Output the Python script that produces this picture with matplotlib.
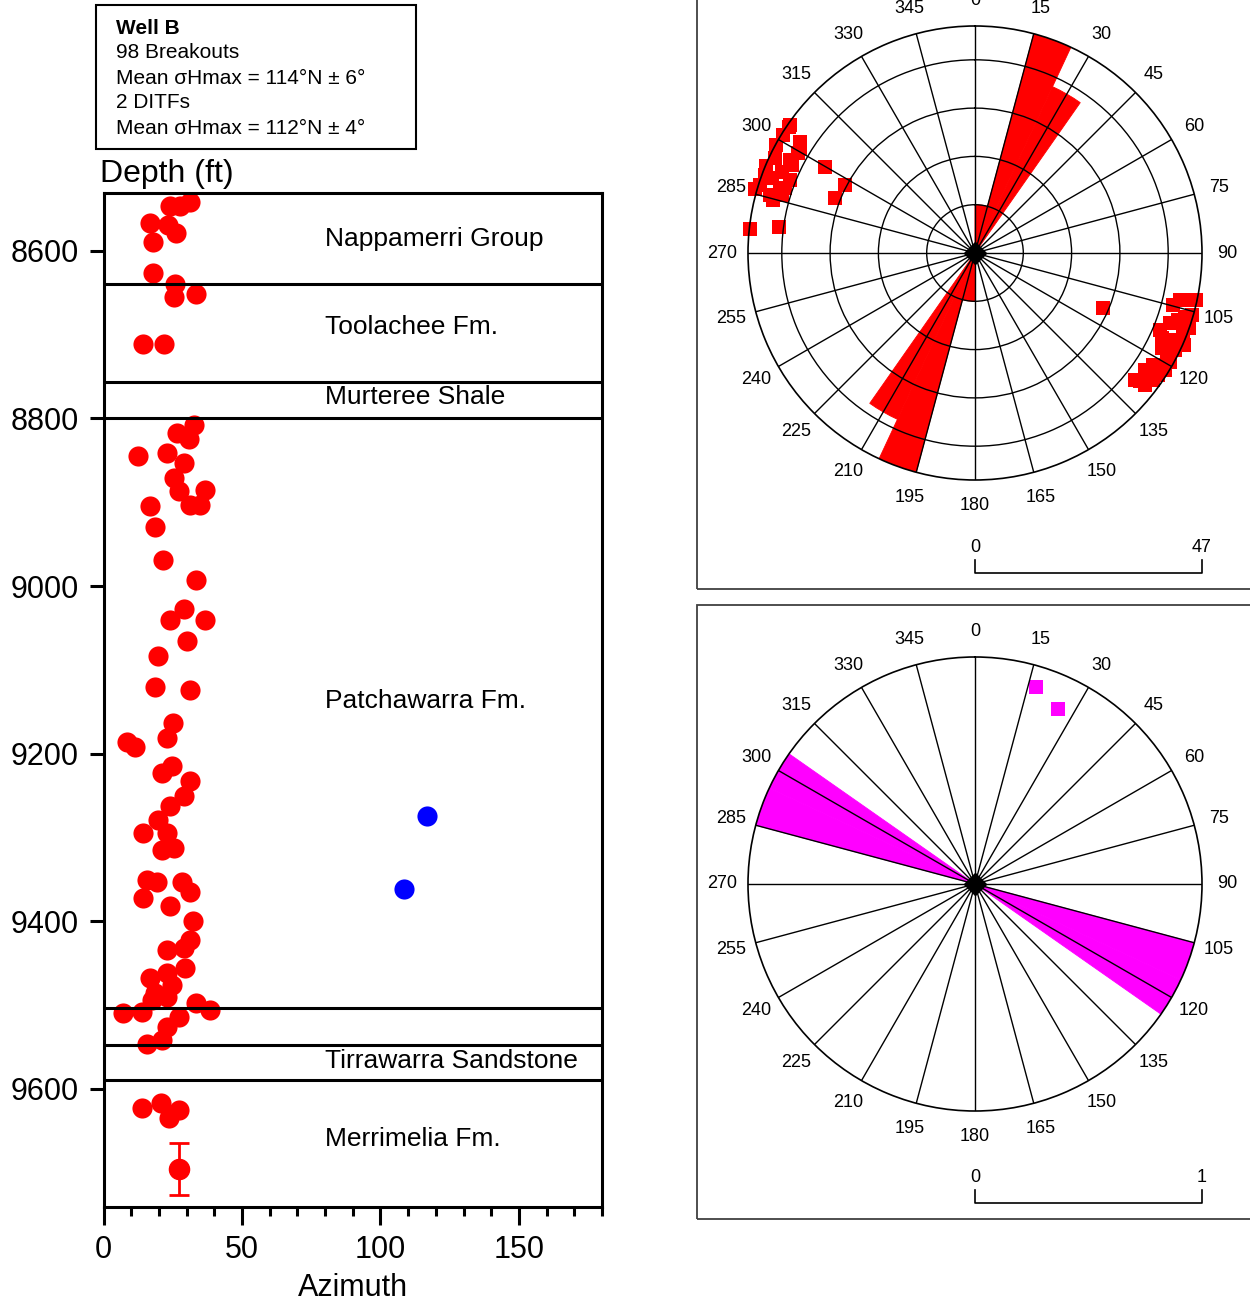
import numpy as np
import matplotlib
matplotlib.use("Agg")
import matplotlib.pyplot as plt
from matplotlib.patches import Rectangle

plt.rcParams['font.family'] = ['Liberation Sans', 'DejaVu Sans']

# ---- well log data (left panel) ----
bo_az = [24.1, 27.7, 31.3, 16.8, 23.4, 26.2, 17.8, 17.8, 25.9, 25.3, 33.5, 14.4, 21.9,
         32.5, 26.5, 30.7, 22.9, 28.9, 12.4, 25.3, 27.1, 31.3, 34.9, 36.7, 16.8, 18.6,
         21.6, 33.5, 28.9, 24.1, 36.5, 30.1, 19.8,
         18.6, 31.3, 25.0, 22.9, 8.4, 11.4, 24.7, 21.1, 31.3, 28.9, 24.1, 19.8, 14.4,
         22.9, 21.1, 25.3,
         15.6, 19.2, 28.3, 31.3, 14.2, 24.1, 32.3, 31.3, 22.9, 28.9, 29.5, 22.9, 16.8,
         24.7, 18.6, 22.9, 17.4, 33.5, 38.5, 7.2, 13.8, 27.1, 22.9, 21.1, 15.6,
         13.8, 20.7, 23.8, 27.1]
bo_depth = [8547, 8547, 8542, 8567, 8569, 8579, 8589, 8627, 8639, 8655, 8652, 8711, 8711,
            8808, 8817, 8825, 8841, 8853, 8845, 8871, 8887, 8903, 8903, 8885, 8905, 8929,
            8969, 8993, 9027, 9040, 9041, 9065, 9084,
            9120, 9124, 9164, 9181, 9186, 9192, 9215, 9223, 9233, 9251, 9263, 9279, 9295,
            9295, 9315, 9313,
            9351, 9353, 9353, 9365, 9372, 9382, 9400, 9422, 9434, 9432, 9456, 9462, 9468,
            9476, 9486, 9490, 9494, 9498, 9506, 9510, 9508, 9514, 9526, 9542, 9546,
            9623, 9617, 9635, 9625]
err_az = [27.1]
err_depth = [9696]
err_size = [31]
ditf_az = [116.7, 108.4]
ditf_depth = [9275, 9361]

formation_names = ['Nappamerri Group', 'Toolachee Fm.', 'Murteree Shale',
                   'Patchawarra Fm.', 'Tirrawarra Sandstone', 'Merrimelia Fm.']
label_depths = [8586, 8691, 8774, 9137, 9567, 9660]
boundaries = [8639, 8756, 8800, 9504, 9548, 9590]

info_lines = ['Well B', '98 Breakouts', 'Mean σHmax = 114°N ± 6°', '2 DITFs',
              'Mean σHmax = 112°N ± 4°']

# ---- rose / polar data ----
bo_rose_edges = [0, 15, 25, 35]
bo_rose_counts = [10, 47, 38]
bo_rose_max = 47
bo_sq_az = [304.1, 302.5, 299.4, 298.4, 292.6, 290.2, 287.6, 292.8, 295.6, 288.8, 284.7,
            286.7, 276.2, 277.7, 299.9, 297.6, 291.3,
            304.7, 301.6, 301.0, 295.4, 296.7, 290.4, 286.3, 291.5, 288.4, 285.8,
            113.3, 102.3, 104.7, 106.9, 109.8, 111.1, 114.6, 115.9, 118.4, 122.1, 124.5,
            127.9, 125.5, 121.6, 102.0,
            102.9, 105.9, 108.3, 109.2, 112.6, 113.5, 113.7, 119.2, 123.7, 127.8, 128.4,
            116.9]
bo_sq_r = [46.5, 42.9, 42.0, 46.8, 46.8, 44.8, 46.7, 43.4, 42.1, 41.6, 43.2,
           41.8, 46.8, 40.9, 35.8, 30.4, 31.1,
           46.6, 46.7, 42.3, 45.8, 42.9, 46.4, 47.5, 41.2, 42.5, 44.1,
           28.9, 45.6, 42.4, 45.4, 42.9, 46.2, 42.5, 46.0, 45.1, 43.6, 42.7,
           43.3, 45.3, 46.2, 46.8,
           43.5, 46.7, 44.3, 47.0, 41.5, 45.1, 47.3, 46.2, 45.5, 44.6, 42.3,
           43.4]

ditf_rose_edges = [105, 115, 125]
ditf_rose_counts = [1, 1]
ditf_rose_max = 1
ditf_sq_az = [17.2, 25.4]
ditf_sq_r = [0.908, 0.853]

W, H = 1250, 1304
fig = plt.figure(figsize=(W / 100, H / 100), dpi=100)


def px_rect(x0, y0, x1, y1):
    return [x0 / W, 1 - y1 / H, (x1 - x0) / W, (y1 - y0) / H]


# ---------------- left panel ----------------
ax = fig.add_axes(px_rect(103.5, 193, 602, 1207))
ax.plot(bo_az, bo_depth, 'o', color='red', ms=14.5, mew=0)
ax.errorbar(err_az, err_depth, yerr=err_size, fmt='o', color='red', ecolor='red',
            ms=14.5, mec='red', capsize=7, elinewidth=2, capthick=2)
ax.plot(ditf_az, ditf_depth, 'o', color='blue', ms=14.5, mew=0)
for d in boundaries:
    ax.axhline(d, color='black', lw=2.2)
for name, d in zip(formation_names, label_depths):
    ax.text(80, d, name, fontsize=19, ha='left', va='center')

ax.set_xlim(0, 180)
ax.set_ylim(9741, 8531)
ax.set_yticks([8600, 8800, 9000, 9200, 9400, 9600])
ax.set_xticks([0, 50, 100, 150])
ax.set_xticks(np.arange(0, 181, 10), minor=True)
ax.tick_params(axis='y', length=10, width=2.2, labelsize=22, pad=8)
ax.tick_params(axis='x', which='major', length=13, width=2.2, labelsize=22, pad=7)
ax.tick_params(axis='x', which='minor', length=6.5, width=2.2)
for s in ax.spines.values():
    s.set_linewidth(2.2)
ax.set_xlabel('Azimuth', fontsize=22, labelpad=6)
fig.text(100 / W, 1 - 174 / H, 'Depth (ft)', fontsize=23, ha='left', va='center')

# info box
fig.add_artist(Rectangle((96 / W, 1 - 149 / H), 320 / W, 144 / H, transform=fig.transFigure,
                         fill=False, ec='black', lw=1.5))
for i, line in enumerate(info_lines):
    fig.text(116 / W, 1 - (28 + 25 * i) / H, line, fontsize=15, ha='left', va='center',
             fontweight='bold' if i == 0 else 'normal')


# ---------------- rose panels ----------------
def rose(rect, edges, counts, rmax, color, sq_az, sq_r, rings):
    p = fig.add_axes(rect, projection='polar')
    p.set_theta_zero_location('N')
    p.set_theta_direction(-1)
    left = np.array(edges[:-1], dtype=float)
    widths = np.diff(edges)
    for off in (0, 180):
        p.bar(np.deg2rad(left + off), counts, width=np.deg2rad(widths), align='edge',
              color=color, ec=color, lw=0.6)
    p.scatter(np.deg2rad(sq_az), sq_r, marker='s', s=95, color=color, lw=0, clip_on=False)
    p.plot([0], [0], 'D', color='black', ms=11.5, zorder=5, clip_on=False)
    p.set_ylim(0, rmax)
    p.set_yticks(rings)
    p.set_yticklabels([])
    angles = np.arange(0, 360, 15)
    p.set_thetagrids(angles, [str(a) for a in angles])
    p.grid(True, color='black', lw=1)
    p.spines['polar'].set_linewidth(1.2)
    p.spines['polar'].set_zorder(3)
    p.tick_params(axis='x', labelsize=13, pad=8)
    return p


rose(px_rect(748, 26, 1202, 480), bo_rose_edges, bo_rose_counts, bo_rose_max, 'red',
     bo_sq_az, bo_sq_r, [10, 20, 30, 40])
rose(px_rect(748, 657, 1202, 1111), ditf_rose_edges, ditf_rose_counts, ditf_rose_max,
     '#ff00ff', ditf_sq_az, ditf_sq_r, [])


def scale_bar(y_px, top_label):
    sb = fig.add_axes(px_rect(975, y_px - 13, 1202, y_px))
    sb.set_xlim(0, 1)
    sb.set_ylim(0, 1)
    sb.plot([0, 0, 1, 1], [1, 0, 0, 1], color='black', lw=1.2, clip_on=False)
    sb.text(0, 2.0, '0', fontsize=13, ha='center', va='center')
    sb.text(1, 2.0, top_label, fontsize=13, ha='center', va='center')
    sb.axis('off')


scale_bar(573, str(bo_rose_max))
scale_bar(1203, str(ditf_rose_max))

# panel frames
fig.add_artist(Rectangle((697 / W, 1 - 589 / H), 600 / W, 600 / H, transform=fig.transFigure,
                         fill=False, ec='#404040', lw=1.3))
fig.add_artist(Rectangle((697 / W, 1 - 1219 / H), 600 / W, 614 / H, transform=fig.transFigure,
                         fill=False, ec='#404040', lw=1.3))

fig.savefig('out.png', dpi=100)
